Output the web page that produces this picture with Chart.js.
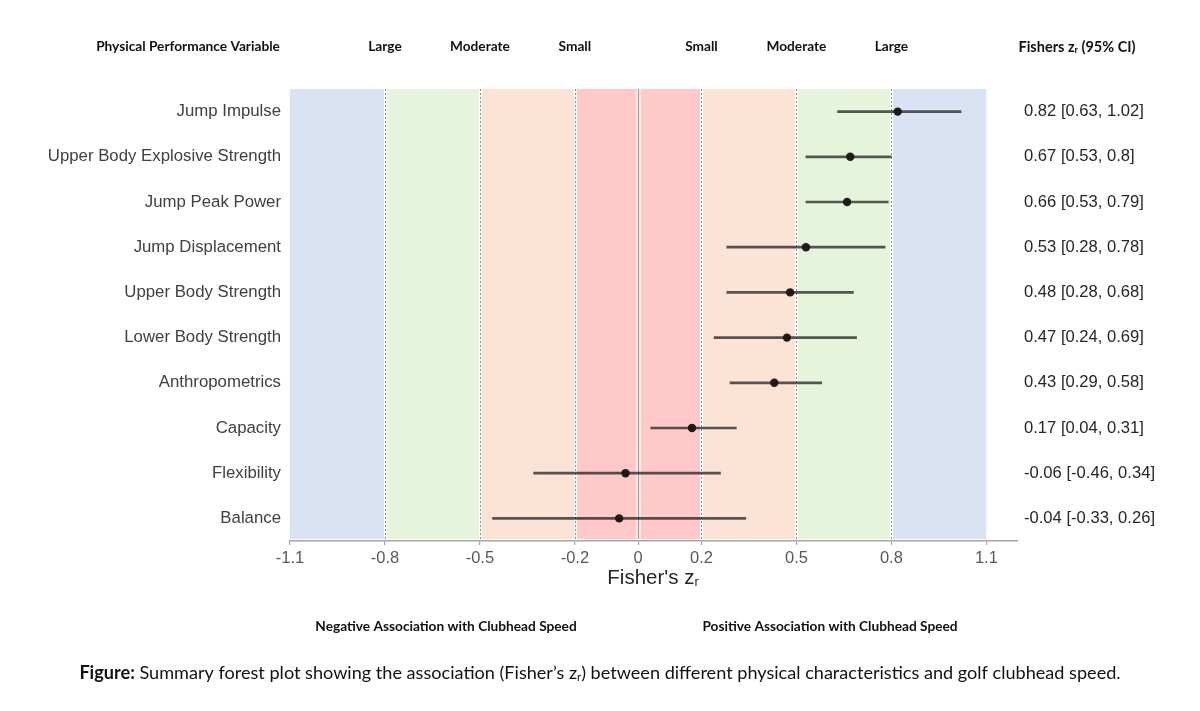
<!DOCTYPE html>
<html>
<head>
<meta charset="utf-8">
<script src="https://cdn.jsdelivr.net/npm/chart.js@4.4.1/dist/chart.umd.min.js"></script>
<style>
  html, body { margin: 0; background: #fff; }
  #wrap { width: 1200px; height: 711px; }
</style>
</head>
<body>
<div id="wrap"><canvas id="forestChart"></canvas></div>
<script>
// Data
const variables = [
  "Jump Impulse",
  "Upper Body Explosive Strength",
  "Jump Peak Power",
  "Jump Displacement",
  "Upper Body Strength",
  "Lower Body Strength",
  "Anthropometrics",
  "Capacity",
  "Flexibility",
  "Balance",
];
const estimates = [0.82, 0.67, 0.66, 0.53, 0.48, 0.47, 0.43, 0.17, -0.04, -0.06];
const lowerCI = [0.63, 0.53, 0.53, 0.28, 0.28, 0.24, 0.29, 0.04, -0.33, -0.46];
const upperCI = [1.02, 0.80, 0.79, 0.78, 0.68, 0.69, 0.58, 0.31, 0.26, 0.34];
const ciLabels = [
  "0.82 [0.63, 1.02]",
  "0.67 [0.53, 0.8]",
  "0.66 [0.53, 0.79]",
  "0.53 [0.28, 0.78]",
  "0.48 [0.28, 0.68]",
  "0.47 [0.24, 0.69]",
  "0.43 [0.29, 0.58]",
  "0.17 [0.04, 0.31]",
  "-0.06 [-0.46, 0.34]",
  "-0.04 [-0.33, 0.26]",
];
const xTicks = [-1.1, -0.8, -0.5, -0.2, 0, 0.2, 0.5, 0.8, 1.1];
const bandEdges = [-1.1, -0.8, -0.5, -0.2, 0, 0.2, 0.5, 0.8, 1.1];
const effectLabels = ["Large", "Moderate", "Small", "Small", "Moderate", "Large"];
const effectCuts = [-0.8, -0.5, -0.2, 0.2, 0.5, 0.8];

// Styles
const bandColors = ["#dae3f3", "#e6f4dc", "#fbe3d5", "#ffc9c9", "#ffc9c9", "#fbe3d5", "#e6f4dc", "#dae3f3"];
const labelFont = "'Liberation Sans', Arial, sans-serif";
const noteFont = "Lato, 'Open Sans', sans-serif";

// Coloured effect-size bands, cut lines and the zero line
const bandsPlugin = {
  id: "bands",
  beforeDatasetsDraw(chart) {
    const { ctx, chartArea, scales } = chart;
    const x = scales.x;
    const top = chartArea.top;
    const bottom = chartArea.bottom - 2;
    ctx.save();
    for (let i = 0; i < bandEdges.length - 1; i++) {
      const x0 = x.getPixelForValue(bandEdges[i]);
      const x1 = x.getPixelForValue(bandEdges[i + 1]);
      ctx.fillStyle = bandColors[i];
      ctx.fillRect(x0, top, x1 - x0, bottom - top);
    }
    effectCuts.forEach((v) => {
      const px = Math.round(x.getPixelForValue(v)) + 0.5;
      ctx.strokeStyle = "#ffffff";
      ctx.lineWidth = 3;
      ctx.setLineDash([]);
      ctx.beginPath();
      ctx.moveTo(px, top);
      ctx.lineTo(px, bottom);
      ctx.stroke();
      ctx.strokeStyle = "#8c8c8c";
      ctx.lineWidth = 1;
      ctx.setLineDash([2, 2]);
      ctx.beginPath();
      ctx.moveTo(px, top);
      ctx.lineTo(px, bottom);
      ctx.stroke();
    });
    ctx.setLineDash([]);
    const z = Math.round(x.getPixelForValue(0)) + 0.5;
    ctx.strokeStyle = "#ffffff";
    ctx.lineWidth = 4;
    ctx.beginPath();
    ctx.moveTo(z, top);
    ctx.lineTo(z, bottom);
    ctx.stroke();
    ctx.strokeStyle = "#a0a0a0";
    ctx.lineWidth = 1.5;
    ctx.beginPath();
    ctx.moveTo(z, top);
    ctx.lineTo(z, bottom);
    ctx.stroke();
    ctx.restore();
  },
};

// Write "before" + subscript r + "after", centred at cx
function textWithSub(ctx, before, after, cx, y, size, weight, family) {
  const subSize = size * 0.62;
  ctx.font = `${weight} ${size}px ${family}`;
  const w1 = ctx.measureText(before).width;
  const w3 = ctx.measureText(after).width;
  ctx.font = `${weight} ${subSize}px ${family}`;
  const w2 = ctx.measureText("r").width;
  const x0 = cx - (w1 + w2 + w3) / 2;
  ctx.textAlign = "left";
  ctx.font = `${weight} ${size}px ${family}`;
  ctx.fillText(before, x0, y);
  ctx.font = `${weight} ${subSize}px ${family}`;
  ctx.fillText("r", x0 + w1, y + size * 0.22);
  ctx.font = `${weight} ${size}px ${family}`;
  ctx.fillText(after, x0 + w1 + w2, y);
}

// Header, axis title, association notes and caption
const notesPlugin = {
  id: "notes",
  afterDraw(chart) {
    const { ctx, scales } = chart;
    const x = scales.x;
    ctx.save();
    ctx.textBaseline = "middle";
    ctx.fillStyle = "#111111";

    ctx.textAlign = "center";
    ctx.font = `bold 13.7px ${noteFont}`;
    ctx.fillText("Physical Performance Variable", 188, 47);
    effectLabels.forEach((t, i) => {
      ctx.textAlign = "center";
      ctx.font = `bold 13.7px ${noteFont}`;
      ctx.fillText(t, x.getPixelForValue(effectCuts[i]), 47);
    });
    textWithSub(ctx, "Fishers z", " (95% CI)", 1077, 47, 14.5, "bold", noteFont);

    ctx.fillStyle = "#262626";
    textWithSub(ctx, "Fisher's z", "", 653, 578, 20.5, "normal", labelFont);

    ctx.fillStyle = "#111111";
    ctx.textAlign = "center";
    ctx.font = `bold 13.7px ${noteFont}`;
    ctx.fillText("Negative Association with Clubhead Speed", 446, 627);
    ctx.fillText("Positive Association with Clubhead Speed", 830, 627);

    // Caption
    const cap1 = "Figure:";
    const cap2 = " Summary forest plot showing the association (Fisher\u2019s z";
    const cap3 = ") between different physical characteristics and golf clubhead speed.";
    const size = 18.1;
    ctx.font = `bold ${size}px ${noteFont}`;
    const w1 = ctx.measureText(cap1).width;
    ctx.font = `normal ${size}px ${noteFont}`;
    const w2 = ctx.measureText(cap2).width;
    const w4 = ctx.measureText(cap3).width;
    ctx.font = `normal ${size * 0.62}px ${noteFont}`;
    const w3 = ctx.measureText("r").width;
    const cx = 600 - (w1 + w2 + w3 + w4) / 2;
    ctx.textAlign = "left";
    ctx.font = `bold ${size}px ${noteFont}`;
    ctx.fillText(cap1, cx, 673);
    ctx.font = `normal ${size}px ${noteFont}`;
    ctx.fillText(cap2, cx + w1, 673);
    ctx.font = `normal ${size * 0.62}px ${noteFont}`;
    ctx.fillText("r", cx + w1 + w2, 677);
    ctx.font = `normal ${size}px ${noteFont}`;
    ctx.fillText(cap3, cx + w1 + w2 + w3, 673);
    ctx.restore();
  },
};

const ctx = document.getElementById("forestChart").getContext("2d");

window.forestChart = new Chart(ctx, {
  type: "bar",
  data: {
    labels: variables,
    datasets: [
      {
        label: "95% CI",
        data: variables.map((v, i) => [lowerCI[i], upperCI[i]]),
        backgroundColor: "rgba(25, 25, 25, 0.72)",
        barThickness: 2,
        yAxisID: "y",
        xAxisID: "x",
      },
      {
        type: "line",
        label: "Fisher's z",
        indexAxis: "y",
        data: estimates,
        showLine: false,
        pointRadius: 4.2,
        pointHoverRadius: 4.2,
        pointBackgroundColor: "rgba(18, 10, 5, 0.92)",
        pointBorderWidth: 0,
        yAxisID: "y",
        xAxisID: "x",
      },
    ],
  },
  options: {
    indexAxis: "y",
    responsive: true,
    maintainAspectRatio: false,
    animation: false,
    layout: { padding: { top: 89, bottom: 120, left: 0, right: 0 } },
    plugins: {
      legend: { display: false },
      tooltip: { enabled: false },
    },
    scales: {
      x: {
        type: "linear",
        min: -1.1,
        max: 1.2,
        afterBuildTicks: (scale) => {
          scale.ticks = xTicks.map((v) => ({ value: v }));
        },
        ticks: {
          color: "#595959",
          font: { family: labelFont, size: 16.5 },
          padding: 4,
          callback: (value) => String(value),
        },
        grid: { drawOnChartArea: false, drawTicks: true, tickLength: 4, color: "#a6a6a6", lineWidth: 1.2 },
        border: { display: true, color: "#a6a6a6", width: 1.5 },
        afterFit: (scale) => {
          scale.height = 50;
        },
      },
      y: {
        type: "category",
        position: "left",
        offset: true,
        grid: { display: false, drawTicks: false },
        border: { display: false },
        ticks: { color: "#404040", font: { family: labelFont, size: 16.8 }, padding: 9 },
        afterFit: (scale) => {
          scale.width = 290;
        },
      },
      y2: {
        type: "category",
        position: "right",
        labels: ciLabels,
        offset: true,
        grid: { display: false, drawTicks: false },
        border: { display: false },
        ticks: { color: "#262626", font: { family: labelFont, size: 16.6 }, padding: 6 },
        afterFit: (scale) => {
          scale.width = 182;
        },
      },
    },
  },
  plugins: [bandsPlugin, notesPlugin],
});
</script>
</body>
</html>
